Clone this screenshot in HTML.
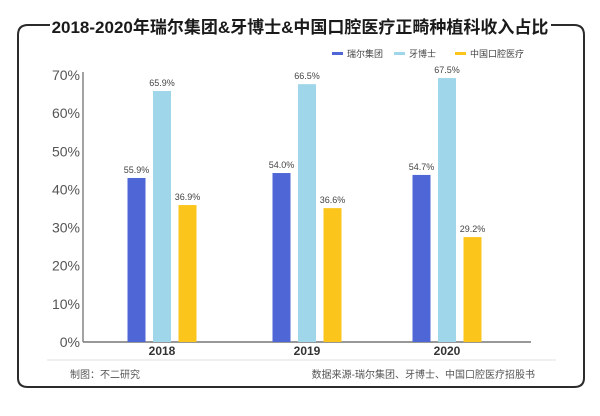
<!DOCTYPE html>
<html><head><meta charset="utf-8">
<style>
html,body{margin:0;padding:0;background:#fff;}
body{width:600px;height:411px;overflow:hidden;font-family:"Liberation Sans","Noto Sans CJK SC",sans-serif;}
</style></head>
<body>
<svg id="chart" width="600" height="411" xmlns="http://www.w3.org/2000/svg" font-family="Liberation Sans, Noto Sans CJK SC, sans-serif">
  <path d="M50,25 L28,25 Q18,25 18,35 L18,378 Q18,387 28,387 L574,387 Q584,387 584,378 L584,35 Q584,25 574,25 L551,25" fill="none" stroke="#2b2b2b" stroke-width="2"/>
  <text x="300" y="33" text-anchor="middle" font-size="17" font-weight="bold" fill="#1a1a1a" font-family="Liberation Sans, Noto Sans CJK SC, sans-serif">2018-2020年瑞尔集团&amp;牙博士&amp;中国口腔医疗正畸种植科收入占比</text>
  <g id="legend"></g>
  <g id="grid"></g>
  <g id="bars"></g>
  <line x1="47" y1="360" x2="556" y2="360" stroke="#e2e2e2" stroke-width="1"/>
  <text x="70" y="378" font-size="10" fill="#555">制图：不二研究</text>
  <text x="535" y="378" text-anchor="end" font-size="10" fill="#555">数据来源-瑞尔集团、牙博士、中国口腔医疗招股书</text>
</svg>
<script>
const categories = ["2018", "2019", "2020"];
const seriesNames = ["瑞尔集团", "牙博士", "中国口腔医疗"];
const heightsRuier = [43.0, 44.3, 43.8];
const heightsYaboshi = [65.8, 67.6, 69.2];
const heightsZhongguo = [35.9, 35.1, 27.5];
const labelsRuier = ["55.9%", "54.0%", "54.7%"];
const labelsYaboshi = ["65.9%", "66.5%", "67.5%"];
const labelsZhongguo = ["36.9%", "36.6%", "29.2%"];
const tickValues = [0, 10, 20, 30, 40, 50, 60, 70];

const colors = ["#4f66d6", "#9fd6ea", "#fbc51c"];
const NS = "http://www.w3.org/2000/svg";
const x0 = 83, x1 = 531, yBase = 342, yTop = 75, vMax = 70;
function y(v){ return yBase - (v / vMax) * (yBase - yTop); }
const groupCenters = [162, 307, 447];
function xc(i){ return groupCenters[i]; }
function mk(tag, attrs, parent){ const e = document.createElementNS(NS, tag); for (const k in attrs) e.setAttribute(k, attrs[k]); parent.appendChild(e); return e; }

const grid = document.getElementById('grid');
const axisY = mk('line', {x1:x0, y1:y(vMax)-3, x2:x0, y2:yBase, stroke:'#666', 'stroke-width':1.2}, grid);


const axisX = mk('line', {x1:x0, y1:yBase, x2:x1, y2:yBase, stroke:'#777', 'stroke-width':1.5}, grid);


tickValues.forEach(v => {
  const t = mk('text', {x:x0-3, y:y(v)+5, 'text-anchor':'end', 'font-size':14, fill:'#555'}, grid);
  t.textContent = v + '%';
  
  
});
categories.forEach((c, i) => {
  const t = mk('text', {x:xc(i), y:355, 'text-anchor':'middle', 'font-size':12, 'font-weight':'bold', fill:'#333'}, grid);
  t.textContent = c;
  
  
});

const bars = document.getElementById('bars');
const heights = [heightsRuier, heightsYaboshi, heightsZhongguo];
const labels = [labelsRuier, labelsYaboshi, labelsZhongguo];
const bw = 18, step = 25.5;
categories.forEach((c, i) => {
  for (let s = 0; s < 3; s++) {
    const cx = xc(i) + (s - 1) * step;
    const top = y(heights[s][i]);
    const r = mk('rect', {x:cx-bw/2, y:top, width:bw, height:yBase-top, fill:colors[s]}, bars);
    
    
    const t = mk('text', {x:cx, y:top-5, 'text-anchor':'middle', 'font-size':9, fill:'#444'}, bars);
    t.textContent = labels[s][i];
    
    
  }
});

const legend = document.getElementById('legend');
const legendX = [332, 394, 455];
seriesNames.forEach((n, s) => {
  const sw = mk('rect', {x:legendX[s], y:52, width:11, height:3, fill:colors[s]}, legend);
  
  
  const t = mk('text', {x:legendX[s]+15, y:57, 'font-size':9, fill:'#444'}, legend);
  t.textContent = n;
  
  
});
</script>
</body></html>
